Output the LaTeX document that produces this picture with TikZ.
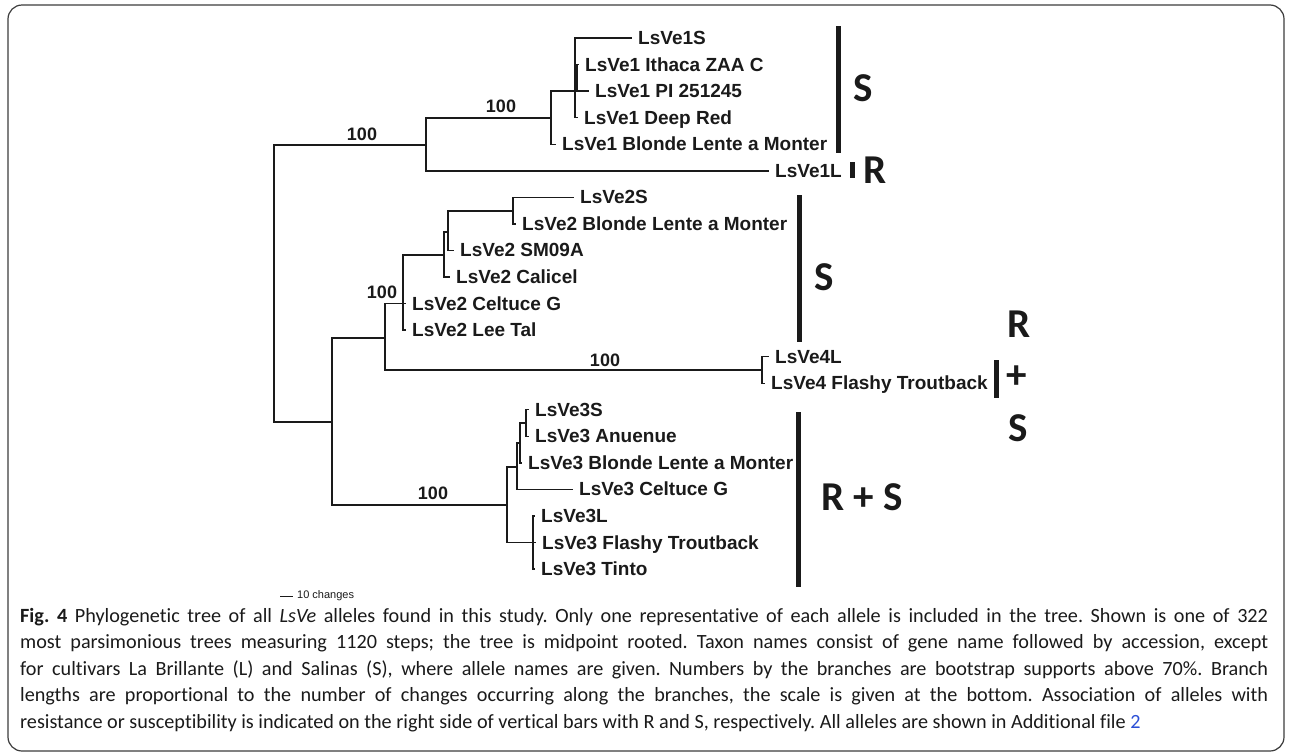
\documentclass[tikz,border=0pt]{standalone}
\usepackage{fontspec}
\setmainfont{Liberation Sans}
\newfontfamily\calfont[Ligatures=NoCommon]{Carlito}
\frenchspacing

\definecolor{ink}{HTML}{1A1A1A}
\definecolor{linkblue}{HTML}{2B4FD6}

\tikzset{
  branch/.style={line width=1.4pt, draw=ink},
  taxon/.style={anchor=west, inner xsep=6pt, inner ysep=0pt, text height=13pt, text depth=0pt,
    font=\bfseries\fontsize{19}{21}\selectfont, text=ink},
  boot/.style={inner sep=0pt, font=\bfseries\fontsize{18}{20}\selectfont, text=ink},
  groupbar/.style={line width=5pt, draw=ink},
  grouptag/.style={inner sep=0pt, font=\calfont\bfseries\fontsize{41}{44}\selectfont, text=ink},
  capline/.style={anchor=base west, inner sep=0pt, font=\calfont\fontsize{20.2}{26}\selectfont, text=ink},
}

\begin{document}
\begin{tikzpicture}[x=1pt, y=-1pt]
  \useasboundingbox (0,0) rectangle (1292,753);
  \draw[line width=1.2pt, draw=ink!85, rounded corners=14pt] (8,5) rectangle (1284,751);

  % inner nodes of the tree
  \coordinate (r)   at (274,283);
  \coordinate (n1)  at (426,145);
  \coordinate (n1a) at (551,118);
  \coordinate (n1b) at (575,91.1);
  \coordinate (n1c) at (577,91.1);
  \coordinate (n2)  at (332,422);
  \coordinate (n2a) at (385,338);
  \coordinate (n2b) at (403,303.5);
  \coordinate (n2c) at (444,255);
  \coordinate (n2d) at (448,232);
  \coordinate (n2e) at (513,211);
  \coordinate (n4)  at (762,370);
  \coordinate (n3)  at (507,505);
  \coordinate (n3a) at (517,467);
  \coordinate (n3b) at (520,443);
  \coordinate (n3c) at (526,423);
  \coordinate (n3e) at (533,542.5);

  % taxa
  \node[taxon] (t1S)   at (632,38)    {LsVe1S};
  \node[taxon] (t1Ith) at (579,64.6)  {LsVe1 Ithaca ZAA C};
  \node[taxon] (t1PI)  at (589,91.1)  {LsVe1 PI 251245};
  \node[taxon] (t1Dee) at (578,117.7) {LsVe1 Deep Red};
  \node[taxon] (t1Blo) at (556,144.2) {LsVe1 Blonde Lente a Monter};
  \node[taxon] (t1L)   at (769,170.8) {LsVe1L};
  \node[taxon] (t2S)   at (574,197.3) {LsVe2S};
  \node[taxon] (t2Blo) at (516,223.9) {LsVe2 Blonde Lente a Monter};
  \node[taxon] (t2SM)  at (454,250.4) {LsVe2 SM09A};
  \node[taxon] (t2Cal) at (450,277)   {LsVe2 Calicel};
  \node[taxon] (t2Cel) at (406,303.5) {LsVe2 Celtuce G};
  \node[taxon] (t2Lee) at (406,330.1) {LsVe2 Lee Tal};
  \node[taxon] (t4L)   at (769,356.6) {LsVe4L};
  \node[taxon] (t4Fla) at (765,383.2) {LsVe4 Flashy Troutback};
  \node[taxon] (t3S)   at (529,409.7) {LsVe3S};
  \node[taxon] (t3Anu) at (529,436.3) {LsVe3 Anuenue};
  \node[taxon] (t3Blo) at (522,462.8) {LsVe3 Blonde Lente a Monter};
  \node[taxon] (t3Cel) at (573,489.4) {LsVe3 Celtuce G};
  \node[taxon] (t3L)   at (535,515.9) {LsVe3L};
  \node[taxon] (t3Fla) at (536,542.5) {LsVe3 Flashy Troutback};
  \node[taxon] (t3Tin) at (535,569)   {LsVe3 Tinto};

  \begin{scope}[branch]
    \draw (r) |- (n1);
    \draw (r) |- (n2);
    \draw (n1) |- (n1a);
    \draw (n1) |- (t1L);
    \draw (n1a) |- (n1b);
    \draw (n1a) |- (t1Blo);
    \draw (n1b) |- (t1S);
    \draw (n1b) |- (t1Dee);
    \draw (n1b) -- (n1c);
    \draw (n1c) |- (t1Ith);
    \draw (n1c) |- (t1PI);
    \draw (n2) |- (n2a);
    \draw (n2) |- (n3);
    \draw (n2a) |- (n2b);
    \draw (n2a) |- (n4);
    \draw (n2b) |- (n2c);
    \draw (n2b) |- (t2Cel);
    \draw (n2b) |- (t2Lee);
    \draw (n2c) |- (n2d);
    \draw (n2c) |- (t2Cal);
    \draw (n2d) |- (n2e);
    \draw (n2d) |- (t2SM);
    \draw (n2e) |- (t2S);
    \draw (n2e) |- (t2Blo);
    \draw (n4) |- (t4L);
    \draw (n4) |- (t4Fla);
    \draw (n3) |- (n3a);
    \draw (n3) |- (n3e);
    \draw (n3a) |- (n3b);
    \draw (n3a) |- (t3Cel);
    \draw (n3b) |- (n3c);
    \draw (n3b) |- (t3Blo);
    \draw (n3c) |- (t3S);
    \draw (n3c) |- (t3Anu);
    \draw (n3e) |- (t3L);
    \draw (n3e) |- (t3Fla);
    \draw (n3e) |- (t3Tin);
  \end{scope}

  % bootstrap supports
  \node[boot] (b1) at (362,134) {100};
  \node[boot] (b2) at (501,106) {100};
  \node[boot] (b3) at (382,292) {100};
  \node[boot] (b4) at (605,360) {100};
  \node[boot] (b5) at (433,493) {100};

  % resistance / susceptibility bars
  \coordinate (g1a) at (838,26);  \coordinate (g1b) at (838,153);
  \coordinate (g2a) at (852,162); \coordinate (g2b) at (852,178);
  \coordinate (g3a) at (799,195); \coordinate (g3b) at (799,342);
  \coordinate (g4a) at (996,360); \coordinate (g4b) at (996,398);
  \coordinate (g5a) at (798,412); \coordinate (g5b) at (798,587);
  \draw[groupbar] (g1a) -- (g1b);
  \draw[groupbar] (g2a) -- (g2b);
  \draw[groupbar] (g3a) -- (g3b);
  \draw[groupbar] (g4a) -- (g4b);
  \draw[groupbar] (g5a) -- (g5b);
  \node[grouptag] (s1)  at (863,88)   {S};
  \node[grouptag] (r1)  at (875,170)  {R};
  \node[grouptag] (s2)  at (824,277)  {S};
  \node[grouptag] (r4)  at (1019,324) {R};
  \node[grouptag] (p4)  at (1017,377) {+};
  \node[grouptag] (s4)  at (1018,428) {S};
  \node[grouptag] (rs3) at (862,497)  {R + S};

  % scale
  \coordinate (sc0) at (280,596);
  \coordinate (sc1) at (293,596);
  \draw[line width=1pt, draw=ink] (sc0) -- (sc1);
  \node[anchor=west, inner sep=0pt, font=\fontsize{11}{13}\selectfont, text=ink] (sclab) at (297,596) {10 changes};

  % caption
  \node[capline] (cap1) at (20,622) {\makebox[1248pt][s]{\textbf{Fig.~4} Phylogenetic tree of all \textit{LsVe} alleles found in this study. Only one representative of each allele is included in the tree. Shown is one of 322}};
  \node[capline] (cap2) at (20,648.5) {\makebox[1248pt][s]{most parsimonious trees measuring 1120 steps; the tree is midpoint rooted. Taxon names consist of gene name followed by accession, except}};
  \node[capline] (cap3) at (20,675) {\makebox[1248pt][s]{for cultivars La Brillante (L) and Salinas (S), where allele names are given. Numbers by the branches are bootstrap supports above 70\%. Branch}};
  \node[capline] (cap4) at (20,701.5) {\makebox[1248pt][s]{lengths are proportional to the number of changes occurring along the branches, the scale is given at the bottom. Association of alleles with}};
  \node[capline] (cap5) at (20,728) {resistance or susceptibility is indicated on the right side of vertical bars with R and S, respectively. All alleles are shown in Additional file \textcolor{linkblue}{2}};
\end{tikzpicture}
\end{document}
